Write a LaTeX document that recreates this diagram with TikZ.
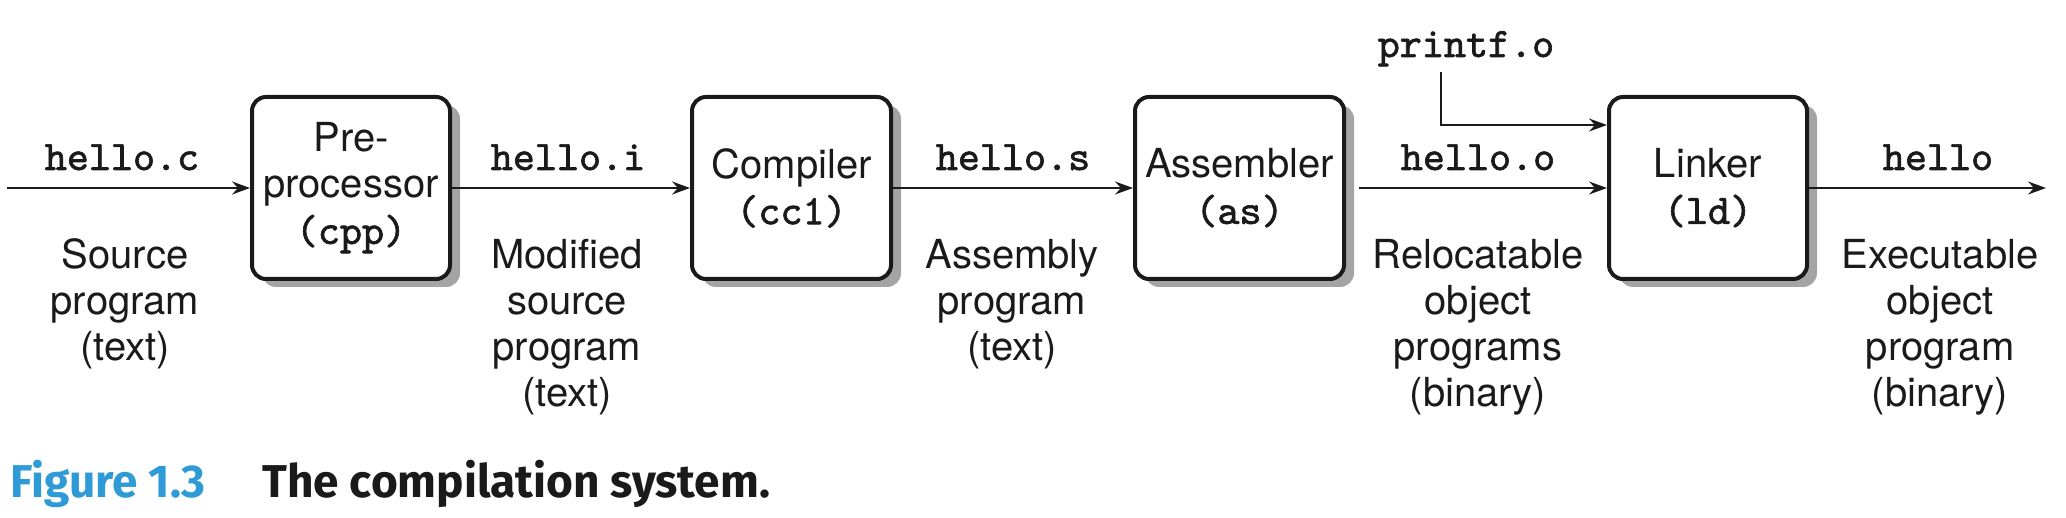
\documentclass[tikz,border=0pt]{standalone}
\usepackage{fontspec}
\setmainfont{TeX Gyre Heros}
\newfontfamily\codefont{lmmono10-regular.otf}[FakeBold=1.5]
\newfontfamily\capfont{Fira Sans}
\usetikzlibrary{arrows.meta,shadows}
\definecolor{capblue}{RGB}{46,154,214}
\definecolor{shadowgray}{RGB}{164,164,164}
\definecolor{ink}{RGB}{26,26,26}
\begin{document}
\begin{tikzpicture}[x=1pt,y=-1pt,
  stage/.style={draw=ink, line width=4pt, rounded corners=14pt, fill=white,
    minimum height=182pt, inner sep=0pt, align=center, text=ink,
    font=\fontsize{40}{46}\selectfont,
    drop shadow={shadow xshift=10pt, shadow yshift=-8pt, fill=shadowgray, opacity=1}},
  flow/.style={draw=ink, line width=2pt, -{Stealth[length=18pt,width=13pt,inset=6pt]}},
  fname/.style={anchor=base, inner sep=0pt, font=\codefont\fontsize{42}{46}\selectfont, text=ink},
  desc/.style={anchor=base, inner sep=0pt, align=center, font=\fontsize{40}{46}\selectfont, text=ink},
  capstyle/.style={anchor=base west, inner sep=0pt, font=\capfont\bfseries\fontsize{46}{50}\selectfont},
]
\useasboundingbox (0,0) rectangle (2066,518);

% stages
\node[stage, minimum width=198pt] (pre) at (351,188)
  {Pre-\\processor\\{\codefont\fontsize{42}{46}\selectfont (cpp)}};
\node[stage, minimum width=199pt] (comp) at (791.5,188)
  {Compiler\\{\codefont\fontsize{42}{46}\selectfont (cc1)}};
\node[stage, minimum width=209pt] (asm) at (1239.5,188)
  {Assembler\\{\codefont\fontsize{42}{46}\selectfont (as)}};
\node[stage, minimum width=198pt] (link) at (1708,188)
  {Linker\\{\codefont\fontsize{42}{46}\selectfont (ld)}};

% free ends
\coordinate (src) at (7,188);
\coordinate (dst) at (2046,188);
\coordinate (pf) at (1441,72);

% connectors
\draw[flow] (src) -- (pre.west);
\draw[flow] (pre.east) -- (comp.west);
\draw[flow] (comp.east) -- (asm.west);
\draw[flow] ([xshift=13pt]asm.east) -- (link.west);
\draw[flow] (link.east) -- (dst);
\draw[flow] (pf) |- ([yshift=63pt]link.west);

% file names
\node[fname] (lc) at (122,170) {hello.c};
\node[fname] (li) at (568,170) {hello.i};
\node[fname] (ls) at (1013,170) {hello.s};
\node[fname] (lo) at (1478,170) {hello.o};
\node[fname] (lx) at (1938,170) {hello};
\node[fname] (lp) at (1466,57) {printf.o};

% descriptions (base anchor = baseline of the last line)
\node[desc] (dc) at (125,360) {Source\\program\\(text)};
\node[desc] (di) at (567,406) {Modified\\source\\program\\(text)};
\node[desc] (ds) at (1012,360) {Assembly\\program\\(text)};
\node[desc] (do) at (1478,406) {Relocatable\\object\\programs\\(binary)};
\node[desc] (dx) at (1940,406) {Executable\\object\\program\\(binary)};

% caption
\node[capstyle, text=capblue] (fig) at (10,497) {Figure 1.3};
\node[capstyle, text=ink] (cap) at (262,497) {The compilation system.};
\end{tikzpicture}
\end{document}
